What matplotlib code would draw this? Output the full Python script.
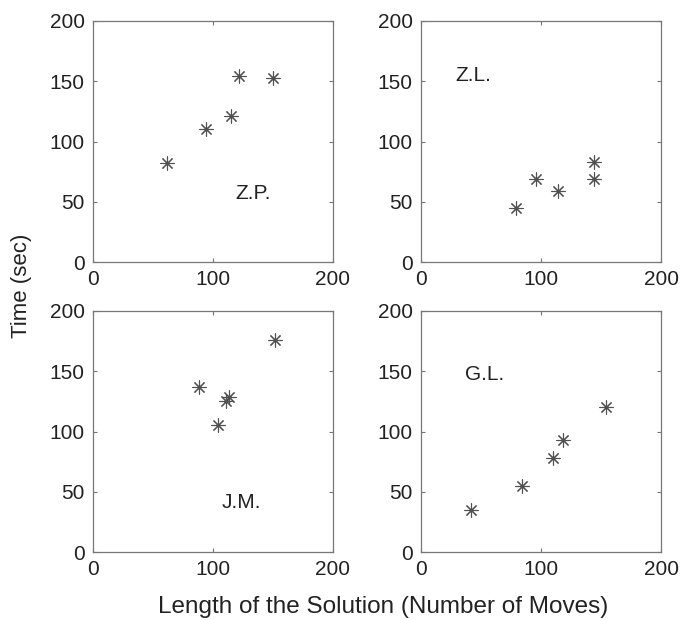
import numpy as np
import matplotlib
matplotlib.use("Agg")
import matplotlib.pyplot as plt

plt.rcParams['font.family'] = ['Liberation Sans', 'DejaVu Sans']

# data (moves, seconds)
names = ["Z.P.", "Z.L.", "J.M.", "G.L."]
zp_moves = [62, 94, 115, 122, 150]
zp_time = [82, 110, 121, 154, 153]
zl_moves = [79, 96, 114, 144, 144]
zl_time = [45, 69, 59, 83, 69]
jm_moves = [88, 104, 111, 113, 152]
jm_time = [137, 105, 125, 129, 176]
gl_moves = [42, 84, 110, 118, 154]
gl_time = [35, 55, 78, 93, 120]

moves = [zp_moves, zl_moves, jm_moves, gl_moves]
times = [zp_time, zl_time, jm_time, gl_time]
# where the name sits in each panel (data coords)
name_pos = [(119, 57), (29, 155), (107, 41), (37, 147)]

fig = plt.figure(figsize=(6.8, 6.2), dpi=100)

w, h = 240 / 680, 241 / 620
lefts = [93 / 680, 421 / 680]
bottoms = [1 - 262 / 620, 1 - 552 / 620]

for i in range(4):
    ax = fig.add_axes([lefts[i % 2], bottoms[i // 2], w, h])
    ax.plot(moves[i], times[i], linestyle='none', marker=(8, 2, 0),
            markersize=10, markeredgewidth=0.8, color='#505050')
    ax.text(name_pos[i][0], name_pos[i][1], names[i], fontsize=15,
            va='center', ha='left', color='#222222')
    ax.set_xlim(0, 200)
    ax.set_ylim(0, 200)
    ax.set_xticks([0, 100, 200])
    ax.set_yticks([0, 50, 100, 150, 200])
    ax.tick_params(direction='in', length=3, width=0.8, color='#777777',
                   top=True, right=True, labelsize=15, labelcolor='#222222',
                   pad=6)
    for s in ax.spines.values():
        s.set_color('#777777')
        s.set_linewidth(0.9)

fig.text(22 / 680, 1 - 286 / 620, "Time (sec)", rotation=90,
         ha='center', va='center', fontsize=16, color='#222222')
fig.text(383 / 680, 1 - 607 / 620, "Length of the Solution (Number of Moves)",
         ha='center', va='center', fontsize=17.5, color='#222222')

fig.savefig("out.png", dpi=100)
